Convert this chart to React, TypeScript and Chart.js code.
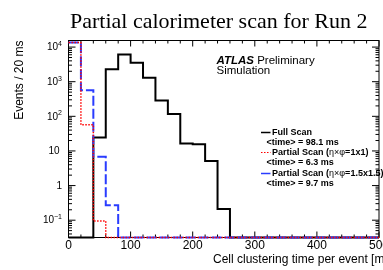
import { useEffect, useRef } from 'react';
import { Chart, registerables } from 'chart.js';
Chart.register(...registerables);

// Histogram bin lower edges (ms), bin width 20 ms, range 0–500
const binEdges = [0, 20, 40, 60, 80, 100, 120, 140, 160, 180, 200, 220, 240, 260, 280, 300, 320, 340, 360, 380, 400, 420, 440, 460, 480];
const binUpper = 500;

// Events / 20 ms
const fullScan = [0, 0, 24.5, 2270, 6150, 3520, 1300, 288, 116, 16.5, 15.5, 5.1, 0.21, 0, 0, 0, 0, 0, 0, 0, 0, 0, 0, 0, 0];
const partial1x1 = [13500, 57, 0.095, 0, 0, 0, 0, 0, 0, 0, 0, 0, 0, 0, 0, 0, 0, 0, 0, 0, 0, 0, 0, 0, 0];
const partial15x15 = [13500, 571, 6.8, 0.27, 0, 0, 0, 0, 0, 0, 0, 0, 0, 0, 0, 0, 0, 0, 0, 0, 0, 0, 0, 0, 0];

const xTickLabels = ['0', '100', '200', '300', '400', '500'];
const xTickValues = [0, 100, 200, 300, 400, 500];
const yDecades = [-1, 0, 1, 2, 3, 4];

const Y_MIN = Math.pow(10, -1.5);
const Y_MAX = Math.pow(10, 4.19);

const titleText = 'Partial calorimeter scan for Run 2';
const xTitle = 'Cell clustering time per event [ms]';
const yTitle = 'Events / 20 ms';

const SANS = '"Liberation Sans", Arial, Helvetica, sans-serif';

function toPoints(values: number[]) {
  const pts = binEdges.map((e, i) => ({ x: e, y: values[i] === 0 ? Y_MIN : values[i] }));
  const last = values[values.length - 1];
  pts.push({ x: binUpper, y: last === 0 ? Y_MIN : last });
  return pts;
}

const decorPlugin = {
  id: 'rootDecor',
  beforeDatasetsDraw(chart: any) {
    const ctx = chart.ctx as CanvasRenderingContext2D;
    const a = chart.chartArea;
    const xs = chart.scales.x;
    const ys = chart.scales.y;
    ctx.save();
    ctx.strokeStyle = '#000';
    ctx.lineWidth = 1;
    ctx.strokeRect(a.left, a.top, a.right - a.left, a.bottom - a.top);
    for (let v = 0; v <= 500; v += 20) {
      const px = xs.getPixelForValue(v);
      const len = v % 100 === 0 ? 6 : 3;
      ctx.beginPath();
      ctx.moveTo(px, a.bottom);
      ctx.lineTo(px, a.bottom - len);
      ctx.moveTo(px, a.top);
      ctx.lineTo(px, a.top + len);
      ctx.stroke();
    }
    for (let d = -2; d <= 4; d++) {
      for (let k = 1; k <= 9; k++) {
        const v = k * Math.pow(10, d);
        if (v < Y_MIN || v > Y_MAX) continue;
        const py = ys.getPixelForValue(v);
        const len = k === 1 ? 7 : 3.5;
        ctx.beginPath();
        ctx.moveTo(a.left, py);
        ctx.lineTo(a.left + len, py);
        ctx.moveTo(a.right, py);
        ctx.lineTo(a.right - len, py);
        ctx.stroke();
      }
    }
    ctx.restore();
  },
  afterDraw(chart: any) {
    const ctx = chart.ctx as CanvasRenderingContext2D;
    const a = chart.chartArea;
    const xs = chart.scales.x;
    const ys = chart.scales.y;
    ctx.save();
    ctx.fillStyle = '#000';

    ctx.font = `22px "Liberation Serif", "Times New Roman", serif`;
    ctx.textAlign = 'left';
    ctx.textBaseline = 'alphabetic';
    ctx.fillText(titleText, 70, 28);

    ctx.font = `12px ${SANS}`;
    ctx.textAlign = 'center';
    ctx.textBaseline = 'top';
    xTickValues.forEach((v, i) => {
      ctx.fillText(xTickLabels[i], xs.getPixelForValue(v), a.bottom + 2.5);
    });

    ctx.textBaseline = 'middle';
    const rightEdge = a.left - 6.5;
    yDecades.forEach((d) => {
      const py = ys.getPixelForValue(Math.pow(10, d)) + 0.5;
      if (d === 0 || d === 1) {
        ctx.font = `10px ${SANS}`;
        ctx.textAlign = 'right';
        ctx.fillText(d === 0 ? '1' : '10', d === 0 ? rightEdge : rightEdge - 2.5, py);
      } else {
        const exp = d === -1 ? '\u22121' : String(d);
        ctx.font = `7px ${SANS}`;
        const ew = ctx.measureText(exp).width;
        ctx.textAlign = 'right';
        ctx.fillText(exp, rightEdge, py - 3.5);
        ctx.font = `10px ${SANS}`;
        ctx.fillText('10', rightEdge - ew, py);
      }
    });

    ctx.font = `12px ${SANS}`;
    ctx.textAlign = 'left';
    ctx.textBaseline = 'alphabetic';
    ctx.fillText(xTitle, 213, 263);

    ctx.save();
    ctx.translate(20, a.top);
    ctx.rotate(-Math.PI / 2);
    ctx.textAlign = 'right';
    ctx.textBaseline = 'middle';
    ctx.font = `12px ${SANS}`;
    ctx.fillText(yTitle, 0, 0);
    ctx.restore();

    ctx.textAlign = 'left';
    ctx.textBaseline = 'alphabetic';
    ctx.font = `italic bold 11.5px ${SANS}`;
    const ax = 216.5;
    ctx.fillText('ATLAS', ax, 64);
    const aw = ctx.measureText('ATLAS ').width;
    ctx.font = `11.5px ${SANS}`;
    ctx.fillText('Preliminary', ax + aw, 64);
    ctx.fillText('Simulation', ax, 73.5);

    const lx0 = 261;
    const lx1 = 270.5;
    const tx = 272;
    const tx2 = 266.5;
    const drawSample = (y: number, color: string, dash: number[], w: number) => {
      ctx.save();
      ctx.strokeStyle = color;
      ctx.lineWidth = w;
      ctx.setLineDash(dash);
      ctx.beginPath();
      ctx.moveTo(lx0, y);
      ctx.lineTo(lx1, y);
      ctx.stroke();
      ctx.restore();
    };
    const drawRich = (parts: [string, boolean][], x: number, y: number) => {
      let cx = x;
      parts.forEach(([t, bold]) => {
        ctx.font = `${bold ? 'bold ' : ''}9px ${SANS}`;
        ctx.fillText(t, cx, y);
        cx += ctx.measureText(t).width;
      });
    };
    ctx.textBaseline = 'middle';
    ctx.textAlign = 'left';
    drawSample(132.5, '#000', [], 1.5);
    drawRich([['Full Scan', true]], tx, 132.5);
    drawRich([['<time> = 98.1 ms', true]], tx2, 142.5);
    drawSample(152.5, '#ff0000', [1.5, 1.5], 1.2);
    drawRich([['Partial Scan (', true], ['\u03B7\u00D7\u03C6', false], ['=1x1)', true]], tx, 152.5);
    drawRich([['<time> = 6.3 ms', true]], tx2, 163);
    drawSample(173.5, '#2a3cff', [], 1.5);
    drawRich([['Partial Scan (', true], ['\u03B7\u00D7\u03C6', false], ['=1.5x1.5)', true]], tx, 173.5);
    drawRich([['<time> = 9.7 ms', true]], tx2, 183.5);

    ctx.restore();
  },
};

export default function App() {
  const canvasRef = useRef<HTMLCanvasElement | null>(null);

  useEffect(() => {
    if (!canvasRef.current) return;
    const chart = new Chart(canvasRef.current, {
      type: 'line',
      data: {
        datasets: [
          {
            label: 'Partial Scan (η×φ=1x1)',
            data: toPoints(partial1x1),
            borderColor: '#ff0000',
            borderWidth: 1.5,
            borderDash: [1.5, 1.5],
            stepped: 'before',
            pointRadius: 0,
            fill: false,
            clip: false,
            order: 0,
          },
          {
            label: 'Partial Scan (η×φ=1.5x1.5)',
            data: toPoints(partial15x15),
            borderColor: '#2a3cff',
            borderWidth: 2,
            borderDash: [10, 3],
            stepped: 'before',
            pointRadius: 0,
            fill: false,
            clip: false,
            order: 1,
          },
          {
            label: 'Full Scan',
            data: toPoints(fullScan),
            borderColor: '#000000',
            borderWidth: 2,
            stepped: 'before',
            pointRadius: 0,
            fill: false,
            clip: false,
            order: 2,
          },
        ],
      },
      options: {
        animation: false,
        responsive: true,
        maintainAspectRatio: false,
        layout: { padding: { left: 0, right: 4, top: 40.5, bottom: 0 } },
        plugins: { legend: { display: false }, tooltip: { enabled: false }, title: { display: false } },
        scales: {
          x: {
            type: 'linear',
            min: 0,
            max: 500,
            ticks: { display: false },
            grid: { display: false },
            border: { display: false },
            afterFit: (s: any) => { s.height = 32.5; },
          },
          y: {
            type: 'logarithmic',
            min: Y_MIN,
            max: Y_MAX,
            ticks: { display: false },
            grid: { display: false },
            border: { display: false },
            afterFit: (s: any) => { s.width = 68.5; },
          },
        },
      },
      plugins: [decorPlugin],
    });
    return () => chart.destroy();
  }, []);

  return (
    <div style={{ position: 'fixed', left: 0, top: 0, width: 383, height: 270, background: '#fff' }}>
      <canvas ref={canvasRef} />
    </div>
  );
}
